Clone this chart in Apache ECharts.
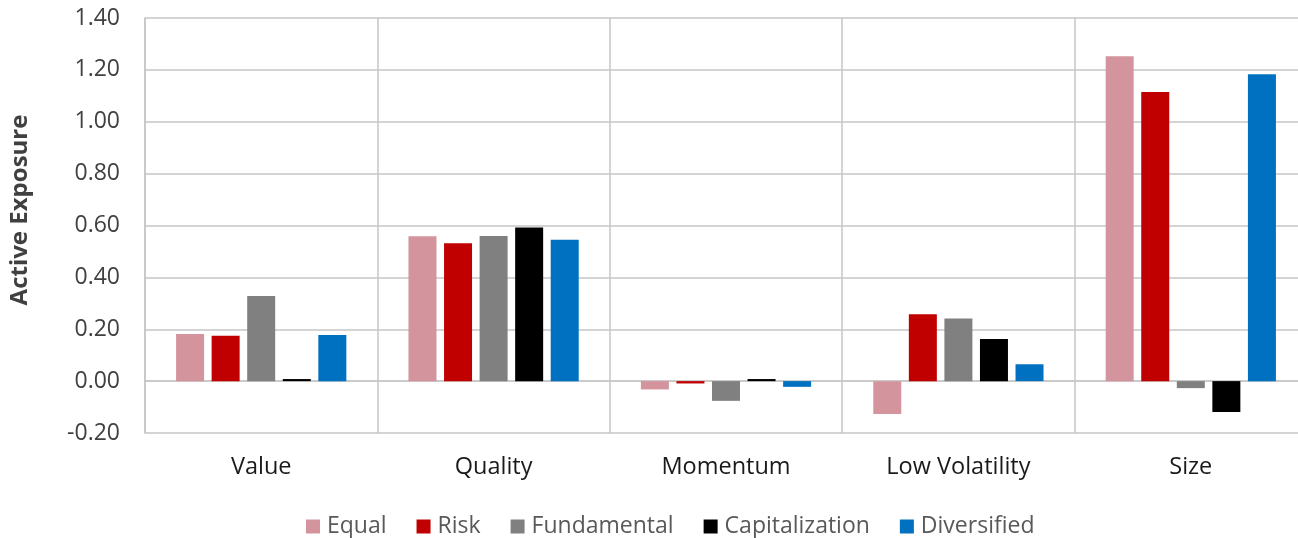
<!DOCTYPE html>
<html>
<head>
<meta charset="utf-8">
<script src="https://cdn.jsdelivr.net/npm/echarts@6/dist/echarts.min.js"></script>
<style>html,body{margin:0;padding:0;background:#fff;overflow:hidden;width:1298px;height:538px;}#c{width:1307px;height:538px;}</style>
</head>
<body>
<div id="c"></div>
<script>
const categories = ["Value", "Quality", "Momentum", "Low Volatility", "Size"];
const seriesNames = ["Equal", "Risk", "Fundamental", "Capitalization", "Diversified"];
const equalVals = [0.182, 0.559, -0.032, -0.127, 1.253];
const riskVals = [0.175, 0.532, -0.009, 0.258, 1.115];
const fundamentalVals = [0.328, 0.560, -0.076, 0.241, -0.027];
const capitalizationVals = [0.008, 0.592, 0.008, 0.162, -0.119];
const diversifiedVals = [0.178, 0.545, -0.022, 0.065, 1.183];
const colors = ["#d3949e", "#c00000", "#808080", "#000000", "#0070c0"];
const yTicks = { min: -0.2, max: 1.4, interval: 0.2 };
const yTitle = "Active Exposure";

const font = "'Open Sans', 'Liberation Sans', sans-serif";
const allVals = [equalVals, riskVals, fundamentalVals, capitalizationVals, diversifiedVals];

const chart = echarts.init(document.getElementById('c'), null, { renderer: 'canvas' });
chart.setOption({
  animation: false,
  backgroundColor: '#ffffff',
  textStyle: { fontFamily: font },
  grid: { left: 145, right: 0, top: 18, bottom: 105, containLabel: false },
  graphic: [{
    type: 'text',
    x: 20, y: 210,
    rotation: Math.PI / 2,
    style: { text: yTitle, fontSize: 24, fontWeight: 'bold', fill: '#404040', fontFamily: font,
      align: 'center', verticalAlign: 'middle' }
  }],
  legend: {
    data: seriesNames,
    top: 510,
    left: 301,
    icon: 'rect',
    itemWidth: 14,
    itemHeight: 14,
    itemGap: 30,
    textStyle: { fontFamily: font, fontSize: 23, color: '#595959', padding: [0, 0, 0, 2] }
  },
  xAxis: {
    type: 'category',
    data: categories,
    axisLine: { show: true, lineStyle: { color: '#c6c6c6', width: 1.5 } },
    axisTick: { show: false },
    splitLine: { show: true, lineStyle: { color: '#c6c6c6', width: 1.5 } },
    axisLabel: { margin: 22, fontSize: 23.5, color: '#1a1a1a', fontFamily: font }
  },
  yAxis: {
    type: 'value',
    min: yTicks.min,
    max: yTicks.max,
    interval: yTicks.interval,
    axisLine: { show: true, lineStyle: { color: '#c6c6c6', width: 1.5 } },
    axisTick: { show: false },
    splitLine: { show: true, lineStyle: { color: '#c6c6c6', width: 1.5 } },
    axisLabel: { margin: 25, fontSize: 23, color: '#404040', fontFamily: font,
      formatter: v => v.toFixed(2) }
  },
  series: seriesNames.map((n, i) => ({
    name: n,
    type: 'bar',
    data: allVals[i],
    barWidth: 28,
    barGap: '27%',
    itemStyle: { color: colors[i] }
  }))
});
</script>
</body>
</html>
